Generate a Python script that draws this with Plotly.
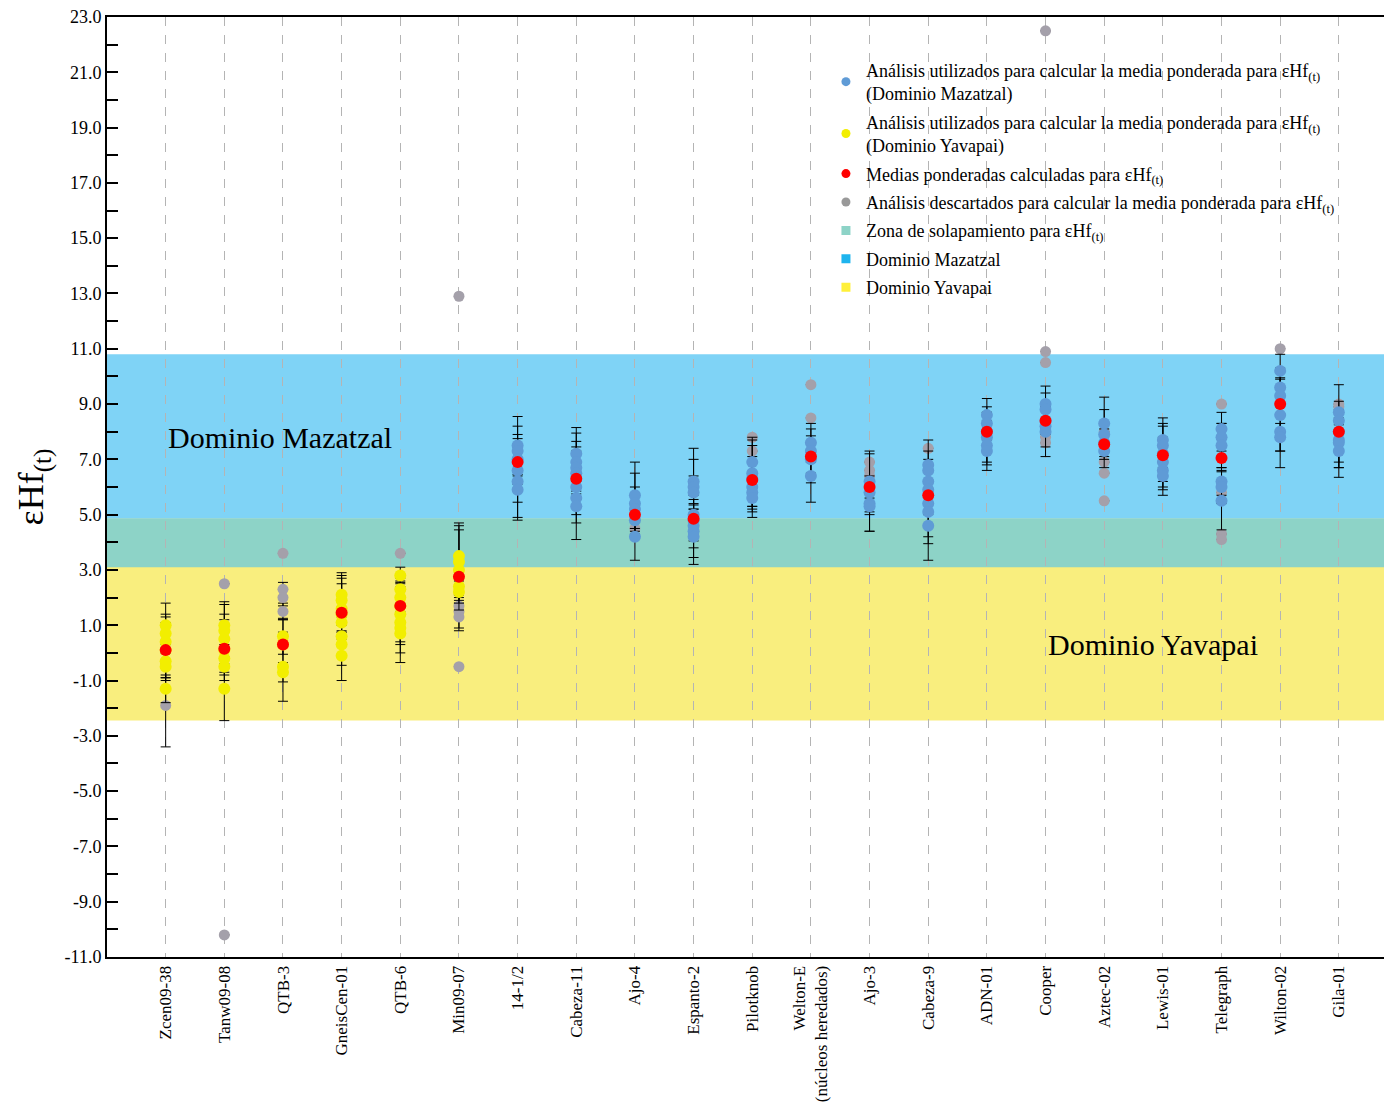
import plotly.graph_objects as go

samples = ["Zcen09-38", "Tanw09-08", "QTB-3", "GneisCen-01", "QTB-6", "Min09-07",
           "14-1/2", "Cabeza-11", "Ajo-4", "Espanto-2", "Pilotknob",
           "Welton-E<br>(núcleos heredados)", "Ajo-3", "Cabeza-9", "ADN-01", "Cooper",
           "Aztec-02", "Lewis-01", "Telegraph", "Wilton-02", "Gila-01"]

weighted_means = [0.1, 0.15, 0.3, 1.45, 1.7, 2.75, 6.9, 6.3, 5.0, 4.85, 6.25,
                  7.1, 6.0, 5.7, 8.0, 8.4, 7.55, 7.15, 7.05, 9.0, 8.0]

y_major_ticks = [-11, -9, -7, -5, -3, -1, 1, 3, 5, 7, 9, 11, 13, 15, 17, 19, 21, 23]
y_minor_ticks = [-10, -8, -6, -4, -2, 0, 2, 4, 6, 8, 10, 12, 14, 16, 18, 20, 22]

# Analyses used for weighted mean (Mazatzal) : sample index -> values / 2s errors
blue_vals = {
    6: [7.5, 7.3, 7.0, 6.6, 6.2, 5.9],
    7: [7.2, 6.9, 6.7, 6.5, 6.0, 5.6, 5.3],
    8: [5.7, 5.4, 5.2, 4.8, 4.2],
    9: [6.2, 6.0, 5.8, 5.0, 4.8, 4.6, 4.4, 4.2],
    10: [6.9, 6.5, 6.3, 6.0, 5.8, 5.6],
    11: [7.6, 7.3, 7.0, 6.4],
    12: [6.2, 5.8, 5.4, 5.3],
    13: [6.8, 6.6, 6.2, 5.9, 5.4, 5.1, 4.6],
    14: [8.6, 8.3, 8.0, 7.8, 7.5, 7.3],
    15: [9.0, 8.8, 8.4, 8.2, 8.0],
    16: [8.3, 7.9, 7.6, 7.3],
    17: [7.7, 7.5, 7.2, 6.9, 6.6, 6.4],
    18: [8.1, 7.8, 7.5, 6.2, 6.0, 5.5],
    19: [10.2, 9.6, 9.3, 8.6, 8.0, 7.8],
    20: [8.7, 8.4, 8.0, 7.7, 7.6, 7.3],
}
blue_errs = {
    6: [1.05, 0.9, 0.9, 1.15, 1.3, 1.1],
    7: [0.95, 1.05, 0.95, 0.95, 1.3, 0.6, 1.2],
    8: [1.2, 1.1, 0.8, 0.6, 0.85],
    9: [1.2, 1.0, 0.6, 0.7, 0.75, 0.8, 0.95, 1.0],
    10: [0.9, 1.2, 1.2, 1.1, 0.5, 0.4],
    11: [0.7, 0.8, 0.85, 0.95],
    12: [1.1, 1.4, 1.0, 0.3],
    13: [0.9, 0.7, 0.8, 0.9, 1.2, 1.15, 1.25],
    14: [0.6, 0.6, 0.7, 0.9, 0.9, 0.5],
    15: [0.65, 0.6, 0.5, 0.75, 0.9],
    16: [0.95, 0.9, 0.5, 0.6],
    17: [0.8, 0.8, 1.0, 0.9, 0.9, 0.5],
    18: [0.6, 0.5, 0.8, 0.5, 0.6, 1.05],
    19: [0.6, 0.7, 0.65, 1.3, 1.3, 0.5],
    20: [1.0, 0.4, 1.1, 1.0, 0.9, 0.95],
}

# Analyses used for weighted mean (Yavapai)
yellow_vals = {
    0: [1.0, 0.7, 0.4, 0.1, -0.3, -0.5, -1.3],
    1: [1.0, 0.8, 0.5, 0.1, -0.2, -0.5, -1.3],
    2: [0.6, 0.3, -0.5, -0.7],
    3: [2.1, 1.9, 1.6, 1.4, 1.1, 0.6, 0.3, -0.1],
    4: [2.8, 2.3, 2.0, 1.7, 1.4, 1.1, 0.9, 0.7],
    5: [3.5, 3.3, 3.0, 2.4, 2.2],
}
yellow_errs = {
    0: [0.8, 0.7, 0.9, 1.0, 0.6, 0.5, 0.5],
    1: [0.85, 0.95, 0.9, 1.1, 0.5, 0.3, 1.15],
    2: [0.65, 0.9, 1.25, 0.35],
    3: [0.8, 0.9, 1.1, 1.1, 0.35, 1.05, 0.45, 0.9],
    4: [0.3, 0.5, 0.6, 1.0, 1.0, 1.45, 0.6, 0.7],
    5: [1.2, 1.3, 1.45, 0.5, 0.4],
}

# Discarded analyses
gray_vals = {
    0: [-1.9], 1: [2.5, -10.2], 2: [3.6, 2.3, 2.0, 1.5], 4: [3.6],
    5: [1.7, 1.5, 1.3, -0.5, 12.9], 8: [4.5], 10: [7.8, 7.3], 11: [9.7, 8.5],
    12: [6.9, 6.6, 6.4], 13: [7.4], 15: [22.5, 10.9, 10.5, 7.8, 7.6],
    16: [8.0, 6.9, 6.5, 5.5], 18: [9.0, 5.8, 4.3, 4.1], 19: [11.0], 20: [9.0, 8.9],
}
gray_errs = {
    0: [1.5], 1: [0, 0], 2: [0, 0.25, 0.3, 0.3], 4: [0],
    5: [0.4, 0.6, 0.5, 0, 0], 8: [0], 10: [0, 0], 11: [0, 0],
    12: [0, 0, 0], 13: [0], 15: [0, 0, 0, 0, 0],
    16: [0, 0, 0, 0], 18: [0, 0, 0, 0], 19: [0], 20: [0, 0],
}

# Domain bands (eHf(t) limits)
mazatzal_band = [3.1, 10.8]
yavapai_band = [-2.45, 4.85]
overlap_band = [3.1, 4.85]

C_BLUE_BAND = "#7fd3f6"
C_YEL_BAND = "#f9ee7e"
C_OVL_BAND = "#8dd3c7"
C_BLUE = "#5f9bd6"
C_YEL = "#f2ee00"
C_RED = "#ff0000"
C_GRAY = "#a4a0aa"
FONT = "Liberation Serif, Times New Roman, serif"


def flatten(vals, errs):
    xs, ys, es = [], [], []
    for k in vals:
        for v, e in zip(vals[k], errs[k]):
            xs.append(k + 1)
            ys.append(v)
            es.append(e)
    return xs, ys, es


fig = go.Figure()

err_style = dict(type="data", visible=True, color="black", thickness=1, width=5)

for vals, errs, col, size in [(gray_vals, gray_errs, C_GRAY, 11),
                              (blue_vals, blue_errs, C_BLUE, 12),
                              (yellow_vals, yellow_errs, C_YEL, 12)]:
    xs, ys, es = flatten(vals, errs)
    fig.add_trace(go.Scatter(x=xs, y=ys, mode="markers", showlegend=False,
                             marker=dict(color=col, size=size),
                             error_y=dict(array=es, **err_style)))

fig.add_trace(go.Scatter(x=list(range(1, len(samples) + 1)), y=weighted_means,
                         mode="markers", showlegend=False,
                         marker=dict(color=C_RED, size=12)))

# legend entries
sub = "<sub>(t)</sub>"
legend_items = [
    ("Análisis utilizados para calcular la media ponderada para εHf" + sub + "<br>(Dominio Mazatzal)", C_BLUE, "circle"),
    ("Análisis utilizados para calcular la media ponderada para εHf" + sub + "<br>(Dominio Yavapai)", C_YEL, "circle"),
    ("Medias ponderadas calculadas para εHf" + sub, C_RED, "circle"),
    ("Análisis descartados para calcular la media ponderada para εHf" + sub, "#999999", "circle"),
    ("Zona de solapamiento para εHf" + sub, C_OVL_BAND, "square"),
    ("Dominio Mazatzal", "#1eb4ee", "square"),
    ("Dominio Yavapai", "#fff03a", "square"),
]
for i, (name, col, sym) in enumerate(legend_items):
    fig.add_trace(go.Scatter(x=[None], y=[None], mode="markers", name=name,
                             legendgroup=f"g{i}",
                             marker=dict(color=col, size=9, symbol=sym)))

# bands
fig.add_shape(type="rect", xref="paper", x0=0, x1=1, y0=mazatzal_band[0], y1=mazatzal_band[1],
              fillcolor=C_BLUE_BAND, line_width=0, layer="below")
fig.add_shape(type="rect", xref="paper", x0=0, x1=1, y0=yavapai_band[0], y1=yavapai_band[1],
              fillcolor=C_YEL_BAND, line_width=0, layer="below")
fig.add_shape(type="rect", xref="paper", x0=0, x1=1, y0=overlap_band[0], y1=overlap_band[1],
              fillcolor=C_OVL_BAND, line_width=0, layer="below")

fig.add_annotation(x=1.0, y=7.8, text="Dominio Mazatzal", showarrow=False, xanchor="left",
                   font=dict(family=FONT, size=30, color="black"))
fig.add_annotation(x=16.0, y=0.3, text="Dominio Yavapai", showarrow=False, xanchor="left",
                   font=dict(family=FONT, size=30, color="black"))

fig.update_layout(
    width=1376, height=1099,
    margin=dict(l=99, r=0, t=9, b=150, autoexpand=False),
    paper_bgcolor="white", plot_bgcolor="white",
    font=dict(family=FONT, color="black"),
    legend=dict(x=0.563, y=0.963, xanchor="left", yanchor="top",
                bgcolor="rgba(0,0,0,0)", font=dict(family=FONT, size=18),
                tracegroupgap=2, itemsizing="trace"),
)
fig.update_xaxes(range=[0, 21.77], tickmode="array", automargin=False,
                 tickvals=list(range(1, len(samples) + 1)), ticktext=samples,
                 tickangle=-90, tickfont=dict(family=FONT, size=17),
                 showgrid=True, gridcolor="#b4b4b4", griddash="dash", gridwidth=1,
                 showline=True, linecolor="black", linewidth=2, mirror=True,
                 ticks="", zeroline=False)
fig.update_yaxes(range=[-11, 23], tickmode="array", tickvals=y_major_ticks, automargin=False,
                 ticktext=[f"{v:.1f}" for v in y_major_ticks], ticklabeloverflow="allow",
                 tickfont=dict(family=FONT, size=18),
                 ticks="inside", ticklen=11, tickcolor="black", tickwidth=1.5,
                 minor=dict(tickmode="array", tickvals=y_minor_ticks, ticks="inside",
                            ticklen=11, tickcolor="black", tickwidth=1.5, showgrid=False),
                 showgrid=False, zeroline=False,
                 showline=True, linecolor="black", linewidth=2,
                 title=dict(text="εHf<sub>(t)</sub>", font=dict(family=FONT, size=36), standoff=10))

fig.write_html("out.html")
